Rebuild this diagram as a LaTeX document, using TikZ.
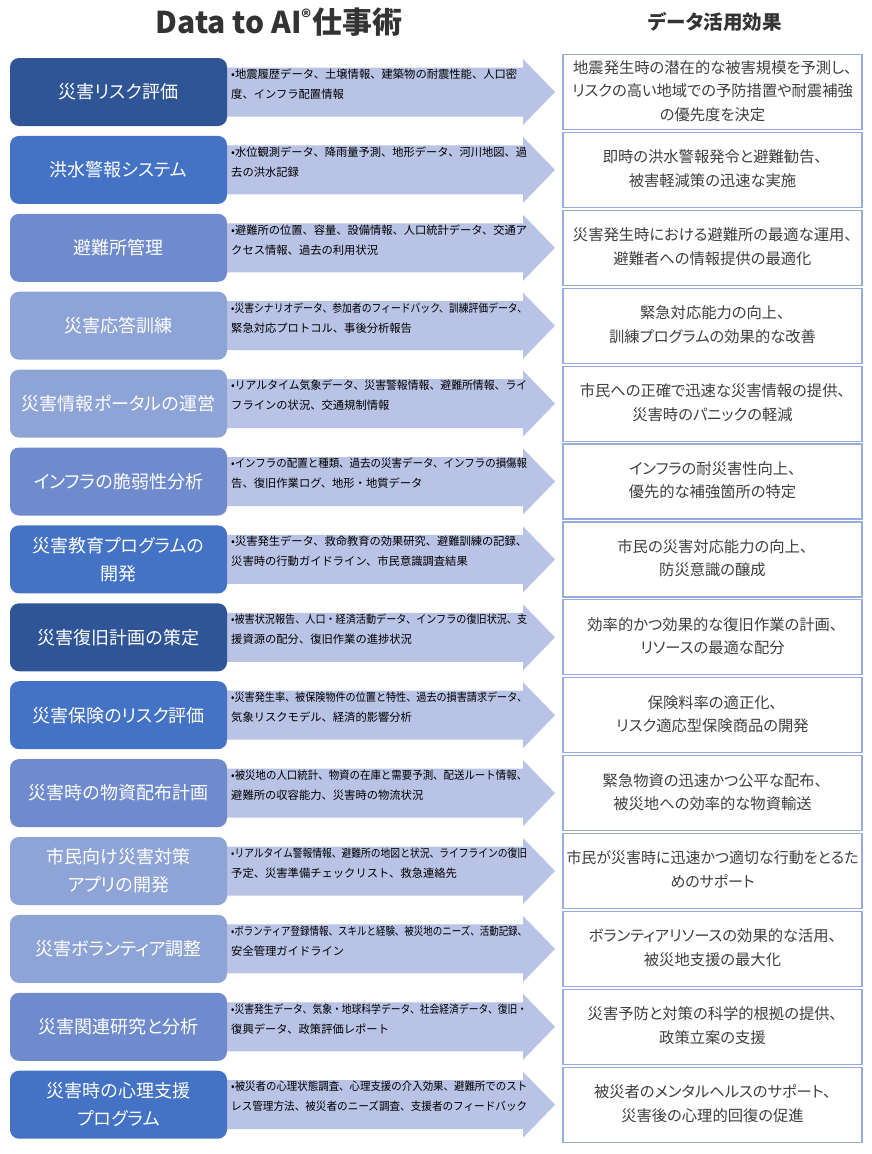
\documentclass[tikz,border=0pt]{standalone}
\usepackage{fontspec}
\usepackage{graphicx}
\setmainfont{Noto Sans CJK JP}[RawFeature=+palt]
\newfontfamily\plainjp{Noto Sans CJK JP}
\definecolor{cA}{HTML}{2F5597}
\definecolor{cB}{HTML}{4472C4}
\definecolor{cC}{HTML}{6F8BCD}
\definecolor{cD}{HTML}{8EA3D6}
\definecolor{arrc}{HTML}{B9C3E5}
\definecolor{rbd}{HTML}{95ADDC}
\definecolor{txtg}{HTML}{3F3F3F}
\definecolor{ttl}{HTML}{333333}
\newcommand\fitw[2]{\sbox0{#2}\ifdim\wd0>#1\relax\pgfmathsetmacro\fr{#1/\wd0}\scalebox{\fr}[1]{\usebox0}\else\usebox0\fi}
\tikzset{
  lbox/.style={rounded corners=9pt, minimum width=217pt, minimum height=68pt, text=white,
    font=\fontsize{18}{28}\selectfont, align=center, inner sep=0pt},
  rbox/.style={draw=rbd, line width=1.2pt, fill=white, minimum width=299pt, minimum height=75pt,
    text=txtg, font=\fontsize{15.3}{23.5}\selectfont, align=center, inner sep=0pt},
  atext/.style={anchor=north west, font=\plainjp\fontsize{11.3}{20}\selectfont, align=left, inner sep=0pt, text=black},
  arrshape/.style={fill=arrc},
  ttlstyle/.style={text=ttl, font=\bfseries, inner sep=0pt}
}
\newcommand\mkrow[6]{%
  \pgfmathsetmacro\cy{92+(#1-1)*77.9}%
  \fill[arrshape] (220,\cy-24.5) -- (523,\cy-24.5) -- (523,\cy-33) -- (555,\cy) -- (523,\cy+33) -- (523,\cy+24.5) -- (220,\cy+24.5) -- cycle;
  \node[lbox, fill=#2] (L#1) at (118.5,\cy) {#3};
  \node[atext] (A#1) at (231,\cy-23.5) {\fitw{296pt}{#4}\\\fitw{296pt}{#5}};
  \node[rbox] (R#1) at (712.5,\cy) {\fitw{292pt}{#6}};
}
\begin{document}
\begin{tikzpicture}[x=1pt,y=-1pt]
\useasboundingbox (0,0) rectangle (872,1154);
\node[ttlstyle, font=\bfseries\fontsize{30}{34}\selectfont] (T1) at (279,22) {Data to AI\raisebox{0.28em}{\fontsize{19}{19}\selectfont ®}仕事術};
\node[ttlstyle, font=\bfseries\fontsize{19.5}{22}\selectfont] (T2) at (715,22) {データ活用効果};
\mkrow{1}{cA}{災害リスク評価}{•地震履歴データ、土壌情報、建築物の耐震性能、人口密}{度、インフラ配置情報}{\begin{tabular}{@{}c@{}}地震発生時の潜在的な被害規模を予測し、\\リスクの高い地域での予防措置や耐震補強\\の優先度を決定\end{tabular}}
\mkrow{2}{cB}{洪水警報システム}{•水位観測データ、降雨量予測、地形データ、河川地図、過}{去の洪水記録}{\begin{tabular}{@{}c@{}}即時の洪水警報発令と避難勧告、\\被害軽減策の迅速な実施\end{tabular}}
\mkrow{3}{cC}{避難所管理}{•避難所の位置、容量、設備情報、人口統計データ、交通ア}{クセス情報、過去の利用状況}{\begin{tabular}{@{}c@{}}災害発生時における避難所の最適な運用、\\避難者への情報提供の最適化\end{tabular}}
\mkrow{4}{cD}{災害応答訓練}{•災害シナリオデータ、参加者のフィードバック、訓練評価データ、}{緊急対応プロトコル、事後分析報告}{\begin{tabular}{@{}c@{}}緊急対応能力の向上、\\訓練プログラムの効果的な改善\end{tabular}}
\mkrow{5}{cD}{災害情報ポータルの運営}{•リアルタイム気象データ、災害警報情報、避難所情報、ライ}{フラインの状況、交通規制情報}{\begin{tabular}{@{}c@{}}市民への正確で迅速な災害情報の提供、\\災害時のパニックの軽減\end{tabular}}
\mkrow{6}{cC}{インフラの脆弱性分析}{•インフラの配置と種類、過去の災害データ、インフラの損傷報}{告、復旧作業ログ、地形・地質データ}{\begin{tabular}{@{}c@{}}インフラの耐災害性向上、\\優先的な補強箇所の特定\end{tabular}}
\mkrow{7}{cB}{災害教育プログラムの\\開発}{•災害発生データ、救命教育の効果研究、避難訓練の記録、}{災害時の行動ガイドライン、市民意識調査結果}{\begin{tabular}{@{}c@{}}市民の災害対応能力の向上、\\防災意識の醸成\end{tabular}}
\mkrow{8}{cA}{災害復旧計画の策定}{•被害状況報告、人口・経済活動データ、インフラの復旧状況、支}{援資源の配分、復旧作業の進捗状況}{\begin{tabular}{@{}c@{}}効率的かつ効果的な復旧作業の計画、\\リソースの最適な配分\end{tabular}}
\mkrow{9}{cB}{災害保険のリスク評価}{•災害発生率、被保険物件の位置と特性、過去の損害請求データ、}{気象リスクモデル、経済的影響分析}{\begin{tabular}{@{}c@{}}保険料率の適正化、\\リスク適応型保険商品の開発\end{tabular}}
\mkrow{10}{cC}{災害時の物資配布計画}{•被災地の人口統計、物資の在庫と需要予測、配送ルート情報、}{避難所の収容能力、災害時の物流状況}{\begin{tabular}{@{}c@{}}緊急物資の迅速かつ公平な配布、\\被災地への効率的な物資輸送\end{tabular}}
\mkrow{11}{cD}{市民向け災害対策\\アプリの開発}{•リアルタイム警報情報、避難所の地図と状況、ライフラインの復旧}{予定、災害準備チェックリスト、救急連絡先}{\begin{tabular}{@{}c@{}}市民が災害時に迅速かつ適切な行動をとるた\\めのサポート\end{tabular}}
\mkrow{12}{cD}{災害ボランティア調整}{•ボランティア登録情報、スキルと経験、被災地のニーズ、活動記録、}{安全管理ガイドライン}{\begin{tabular}{@{}c@{}}ボランティアリソースの効果的な活用、\\被災地支援の最大化\end{tabular}}
\mkrow{13}{cC}{災害関連研究と分析}{•災害発生データ、気象・地球科学データ、社会経済データ、復旧・}{復興データ、政策評価レポート}{\begin{tabular}{@{}c@{}}災害予防と対策の科学的根拠の提供、\\政策立案の支援\end{tabular}}
\mkrow{14}{cB}{災害時の心理支援\\プログラム}{•被災者の心理状態調査、心理支援の介入効果、避難所でのスト}{レス管理方法、被災者のニーズ調査、支援者のフィードバック}{\begin{tabular}{@{}c@{}}被災者のメンタルヘルスのサポート、\\災害後の心理的回復の促進\end{tabular}}
\end{tikzpicture}
\end{document}
